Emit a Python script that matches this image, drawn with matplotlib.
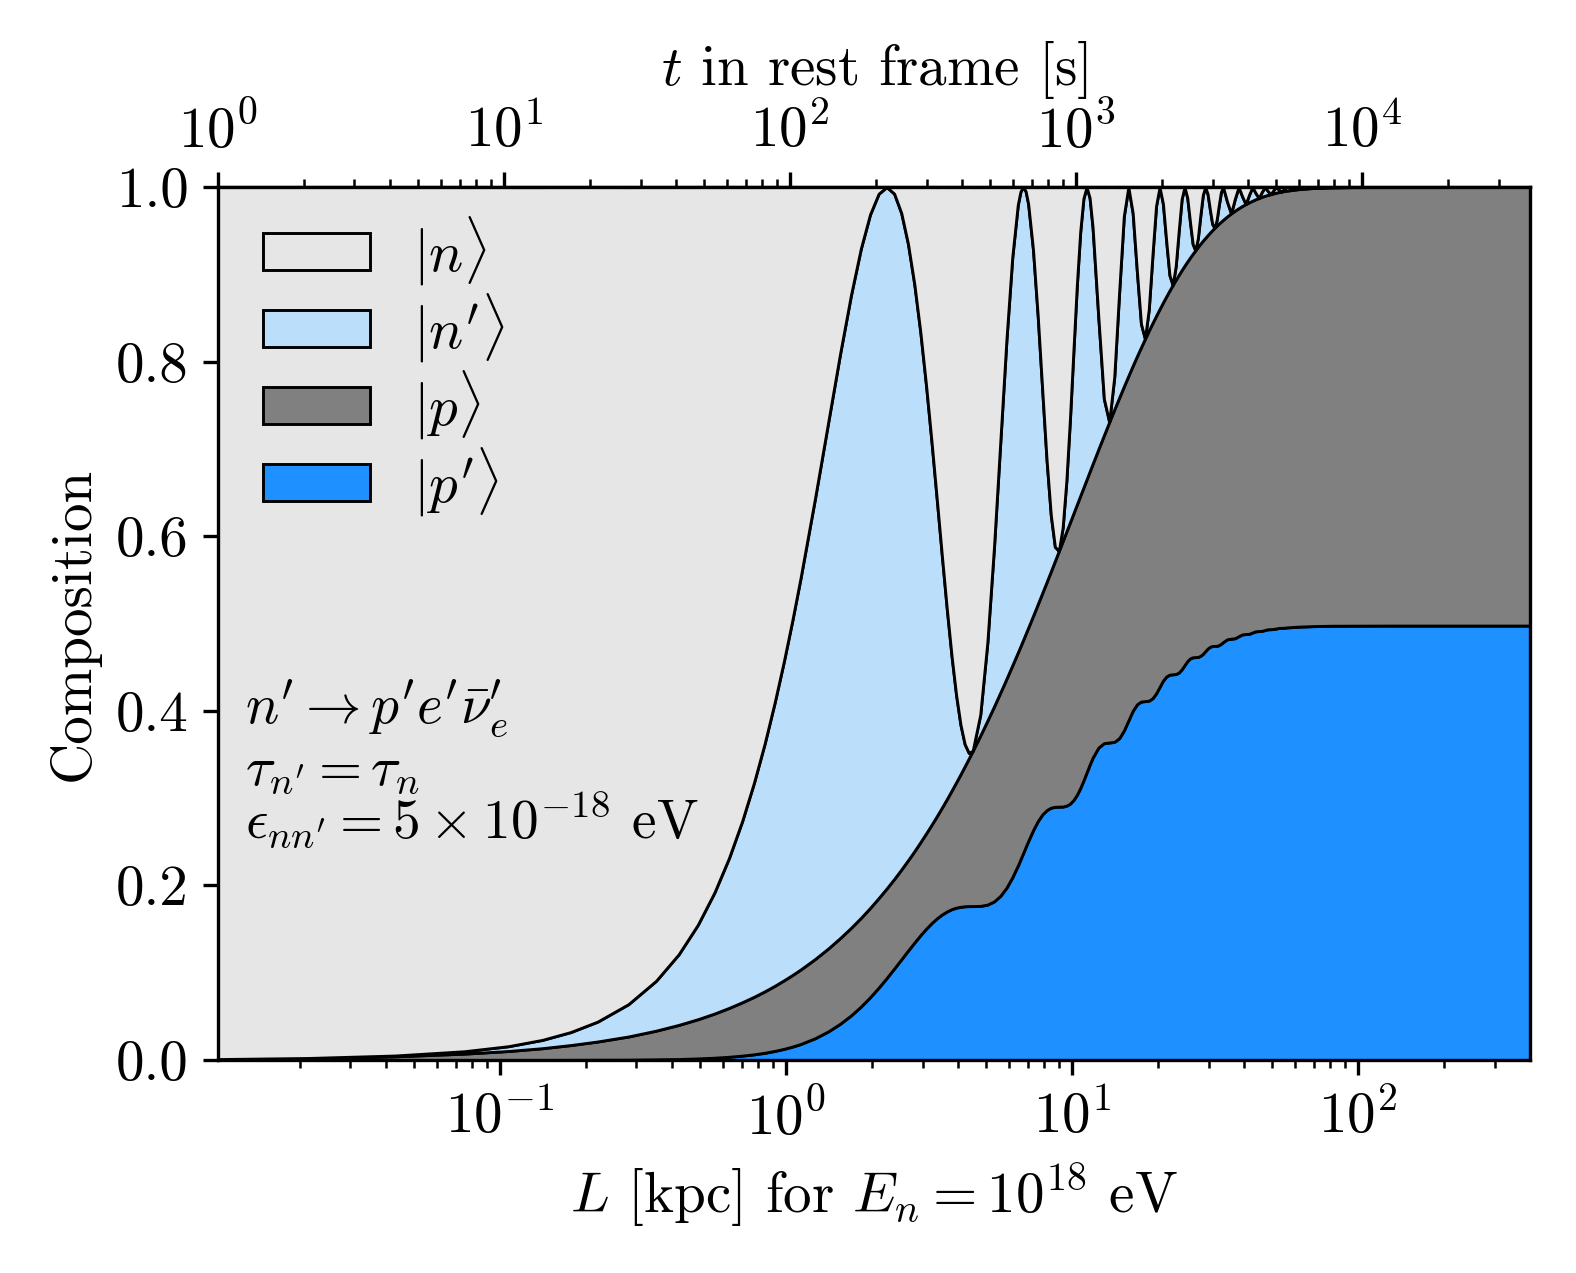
import matplotlib
matplotlib.use("Agg")
import matplotlib.pyplot as plt

plt.rcParams["font.family"] = "serif"
plt.rcParams["font.serif"] = ["cmr10", "DejaVu Serif"]
plt.rcParams["mathtext.fontset"] = "cm"
plt.rcParams["axes.formatter.use_mathtext"] = True
plt.rcParams["font.size"] = 13.7

# distance travelled [kpc]
L_kpc = [0.0100, 0.0107, 0.0214, 0.0428, 0.0749, 0.1070, 0.1404, 0.1766, 0.2194, 0.2809,
         0.3511, 0.4213, 0.4915, 0.5618, 0.6320, 0.7022, 0.7724, 0.8426, 0.9128, 0.9831,
         1.0533, 1.1235, 1.2639, 1.4044, 1.5448, 1.6853, 1.8257, 1.9661, 2.1066, 2.2470,
         2.3874, 2.5279, 2.6683, 2.8088, 2.9492, 3.0896, 3.2301, 3.3705, 3.5109, 3.6514,
         3.7918, 3.9323, 4.0727, 4.2131, 4.3536, 4.4940, 4.7749, 5.0558, 5.3366, 5.6175,
         5.8984, 6.1793, 6.4601, 6.6006, 6.7410, 6.8814, 7.0219, 7.3028, 7.5836, 7.8645,
         8.1454, 8.4263, 8.7071, 8.9880, 9.2689, 9.5498, 9.8306, 10.1115, 10.3924, 10.6733,
         10.9541, 11.2350, 11.516, 11.797, 12.359, 12.920, 13.482, 14.044, 14.606, 15.167,
         15.729, 16.291, 16.853, 17.414, 17.976, 18.538, 19.100, 19.661, 20.223, 20.785,
         21.347, 21.908, 22.470, 23.032, 23.594, 24.155, 24.717, 25.279, 25.841, 26.402,
         26.964, 27.526, 28.088, 28.649, 29.211, 29.773, 30.335, 30.896, 31.458, 32.020,
         32.582, 33.143, 33.705, 34.829, 35.952, 37.076, 38.199, 39.323, 40.446, 41.570,
         42.693, 43.817, 44.940, 46.064, 47.187, 48.311, 49.434, 50.558, 51.681, 52.805,
         53.928, 55.052, 56.175, 62.06, 69.55, 80.25, 96.3, 128.4, 214.0, 410.0]

# composition fractions
frac_n = [0.9990, 0.9989, 0.9977, 0.9950, 0.9900, 0.9841, 0.9769, 0.9681, 0.9560, 0.9360,
          0.9093, 0.8789, 0.8451, 0.8081, 0.7684, 0.7264, 0.6824, 0.6369, 0.5903, 0.5430,
          0.4955, 0.4482, 0.3559, 0.2692, 0.1912, 0.1243, 0.0705, 0.0314, 0.0078, 0.0000,
          0.0076, 0.0298, 0.0650, 0.1114, 0.1668, 0.2285, 0.2939, 0.3601, 0.4246, 0.4845,
          0.5377, 0.5821, 0.6160, 0.6383, 0.6482, 0.6456, 0.6043, 0.5218, 0.4112, 0.2894,
          0.1738, 0.0802, 0.0203, 0.0051, 0.0000, 0.0049, 0.0192, 0.0719, 0.1475, 0.2325,
          0.3128, 0.3758, 0.4121, 0.4169, 0.3902, 0.3369, 0.2655, 0.1868, 0.1122, 0.0518,
          0.0131, 0.0000, 0.0124, 0.0464, 0.1501, 0.2426, 0.2691, 0.2175, 0.1206, 0.0335,
          0.0000, 0.0300, 0.0969, 0.1567, 0.1738, 0.1404, 0.0779, 0.0216, 0.0000, 0.0194,
          0.0626, 0.1012, 0.1122, 0.0907, 0.0503, 0.0139, 0.0000, 0.0125, 0.0404, 0.0653,
          0.0724, 0.0585, 0.0325, 0.0090, 0.0000, 0.0081, 0.0261, 0.0422, 0.0468, 0.0378,
          0.0210, 0.0058, 0.0000, 0.0168, 0.0302, 0.0135, 0.0000, 0.0109, 0.0195, 0.0087,
          0.0000, 0.0070, 0.0126, 0.0056, 0.0000, 0.0045, 0.0081, 0.0036, 0.0000, 0.0029,
          0.0052, 0.0024, 0.0000, 0.0016, 0.0005, 0.0002, 0.0000, 0.0, 0.0, 0.0]

frac_nprime = [0.0000, 0.0001, 0.0002, 0.0009, 0.0027, 0.0055, 0.0095, 0.0149, 0.0228, 0.0370,
               0.0571, 0.0809, 0.1082, 0.1387, 0.1719, 0.2075, 0.2452, 0.2843, 0.3247, 0.3657,
               0.4070, 0.4482, 0.5284, 0.6030, 0.6692, 0.7244, 0.7666, 0.7944, 0.8068, 0.8035,
               0.7850, 0.7521, 0.7062, 0.6494, 0.5837, 0.5118, 0.4363, 0.3601, 0.2859, 0.2163,
               0.1536, 0.0999, 0.0567, 0.0253, 0.0063, 0.0000, 0.0239, 0.0895, 0.1836, 0.2894,
               0.3893, 0.4677, 0.5129, 0.5209, 0.5188, 0.5068, 0.4856, 0.4193, 0.3304, 0.2325,
               0.1397, 0.0645, 0.0163, 0.0000, 0.0154, 0.0578, 0.1185, 0.1868, 0.2514, 0.3020,
               0.3311, 0.3350, 0.3135, 0.2707, 0.1501, 0.0416, 0.0000, 0.0373, 0.1206, 0.1950,
               0.2163, 0.1748, 0.0969, 0.0269, 0.0000, 0.0241, 0.0779, 0.1259, 0.1396, 0.1128,
               0.0626, 0.0174, 0.0000, 0.0156, 0.0503, 0.0813, 0.0902, 0.0729, 0.0404, 0.0112,
               0.0000, 0.0100, 0.0325, 0.0525, 0.0582, 0.0470, 0.0261, 0.0072, 0.0000, 0.0065,
               0.0210, 0.0339, 0.0376, 0.0168, 0.0000, 0.0135, 0.0243, 0.0109, 0.0000, 0.0087,
               0.0157, 0.0070, 0.0000, 0.0056, 0.0101, 0.0045, 0.0000, 0.0036, 0.0065, 0.0029,
               0.0000, 0.0024, 0.0042, 0.0008, 0.0006, 0.0002, 0.0001, 0.0, 0.0, 0.0]

frac_p = [0.0010, 0.0010, 0.0021, 0.0042, 0.0073, 0.0103, 0.0135, 0.0170, 0.0210, 0.0266,
          0.0329, 0.0391, 0.0449, 0.0506, 0.0560, 0.0611, 0.0659, 0.0704, 0.0746, 0.0785,
          0.0821, 0.0853, 0.0908, 0.0950, 0.0982, 0.1003, 0.1016, 0.1023, 0.1026, 0.1026,
          0.1026, 0.1029, 0.1035, 0.1047, 0.1066, 0.1093, 0.1128, 0.1173, 0.1227, 0.1289,
          0.1359, 0.1436, 0.1518, 0.1604, 0.1692, 0.1780, 0.1952, 0.2107, 0.2235, 0.2331,
          0.2394, 0.2428, 0.2441, 0.2442, 0.2443, 0.2443, 0.2444, 0.2456, 0.2486, 0.2538,
          0.2613, 0.2707, 0.2816, 0.2930, 0.3041, 0.3141, 0.3223, 0.3285, 0.3326, 0.3348,
          0.3356, 0.3357, 0.3359, 0.3366, 0.3419, 0.3528, 0.3672, 0.3808, 0.3901, 0.3942,
          0.3948, 0.3954, 0.3988, 0.4058, 0.4151, 0.4239, 0.4299, 0.4325, 0.4329, 0.4333,
          0.4355, 0.4401, 0.4460, 0.4517, 0.4556, 0.4573, 0.4576, 0.4578, 0.4592, 0.4622,
          0.4660, 0.4697, 0.4722, 0.4733, 0.4734, 0.4736, 0.4745, 0.4764, 0.4789, 0.4813,
          0.4829, 0.4836, 0.4837, 0.4844, 0.4872, 0.4898, 0.4903, 0.4908, 0.4926, 0.4943,
          0.4946, 0.4949, 0.4961, 0.4972, 0.4974, 0.4976, 0.4983, 0.4990, 0.4992, 0.4993,
          0.4998, 0.5002, 0.5003, 0.5012, 0.5019, 0.5022, 0.5024, 0.5024, 0.5024, 0.5024]

frac_pprime = [0.0000, 0.0000, 0.0000, 0.0000, 0.0000, 0.0000, 0.0000, 0.0001, 0.0002, 0.0003,
               0.0007, 0.0011, 0.0018, 0.0026, 0.0037, 0.0050, 0.0065, 0.0083, 0.0104, 0.0128,
               0.0154, 0.0183, 0.0250, 0.0328, 0.0415, 0.0510, 0.0612, 0.0719, 0.0829, 0.0939,
               0.1048, 0.1153, 0.1253, 0.1345, 0.1430, 0.1505, 0.1570, 0.1624, 0.1668, 0.1702,
               0.1728, 0.1745, 0.1755, 0.1761, 0.1763, 0.1763, 0.1765, 0.1780, 0.1817, 0.1882,
               0.1975, 0.2093, 0.2227, 0.2298, 0.2369, 0.2440, 0.2508, 0.2632, 0.2735, 0.2812,
               0.2862, 0.2890, 0.2900, 0.2902, 0.2903, 0.2913, 0.2936, 0.2978, 0.3038, 0.3114,
               0.3201, 0.3293, 0.3382, 0.3463, 0.3579, 0.3629, 0.3637, 0.3644, 0.3686, 0.3774,
               0.3889, 0.3999, 0.4074, 0.4106, 0.4111, 0.4116, 0.4143, 0.4200, 0.4274, 0.4345,
               0.4393, 0.4414, 0.4418, 0.4421, 0.4438, 0.4475, 0.4523, 0.4569, 0.4600, 0.4613,
               0.4615, 0.4617, 0.4629, 0.4652, 0.4683, 0.4713, 0.4733, 0.4742, 0.4743, 0.4744,
               0.4752, 0.4767, 0.4787, 0.4819, 0.4826, 0.4831, 0.4854, 0.4875, 0.4879, 0.4882,
               0.4897, 0.4911, 0.4913, 0.4916, 0.4925, 0.4934, 0.4935, 0.4937, 0.4943, 0.4949,
               0.4950, 0.4951, 0.4955, 0.4964, 0.4970, 0.4974, 0.4975, 0.4976, 0.4976, 0.4976]

labels = [r"$|p'\rangle$", r"$|p\rangle$", r"$|n'\rangle$", r"$|n\rangle$"]
colors = ["#1e90ff", "#808080", "#bbdefb", "#e6e6e6"]

kpc_per_s = 0.01033   # L = gamma c t for E_n = 1e18 eV

fig = plt.figure(figsize=(1576 / 300, 1273 / 300), dpi=300)
ax = fig.add_axes([218 / 1576, 1 - 1060 / 1273, 1312 / 1576, 873 / 1273])

polys = ax.stackplot(L_kpc, frac_pprime, frac_p, frac_nprime, frac_n,
                     colors=colors, labels=labels, edgecolor="black", linewidth=0.7)

ax.set_xscale("log")
ax.set_xlim(0.01033, 399)
ax.set_ylim(0, 1)
ax.set_yticks([0.0, 0.2, 0.4, 0.6, 0.8, 1.0])
ax.set_yticklabels(["0.0", "0.2", "0.4", "0.6", "0.8", "1.0"])
ax.set_xlabel(r"$L$ [kpc] for $E_n = 10^{18}$ eV")
ax.set_ylabel("Composition")

top = ax.secondary_xaxis("top", functions=(lambda L: L / kpc_per_s, lambda t: t * kpc_per_s))
top.set_xticks([1, 10, 100, 1000, 10000])
top.set_xlabel(r"$t$ in rest frame [s]")

ax.legend(polys[::-1], labels[::-1], loc="upper left", bbox_to_anchor=(-0.0049, 1.0267),
          frameon=False, handlelength=1.875, handleheight=0.63, labelspacing=0.07,
          handletextpad=0.75)

ax.text(0.0206, 0.386, r"$n' \rightarrow p'e'\bar{\nu}^{\prime}_{e}$", transform=ax.transAxes,
        ha="left", va="baseline", fontsize=13.3)
ax.text(0.0206, 0.315, r"$\tau_{n'} = \tau_n$", transform=ax.transAxes,
        ha="left", va="baseline", fontsize=13.3)
ax.text(0.0206, 0.254, r"$\epsilon_{nn'} = 5\times10^{-18}$ eV", transform=ax.transAxes,
        ha="left", va="baseline", fontsize=13.3)

fig.savefig("out.png", dpi=300, facecolor="white")
